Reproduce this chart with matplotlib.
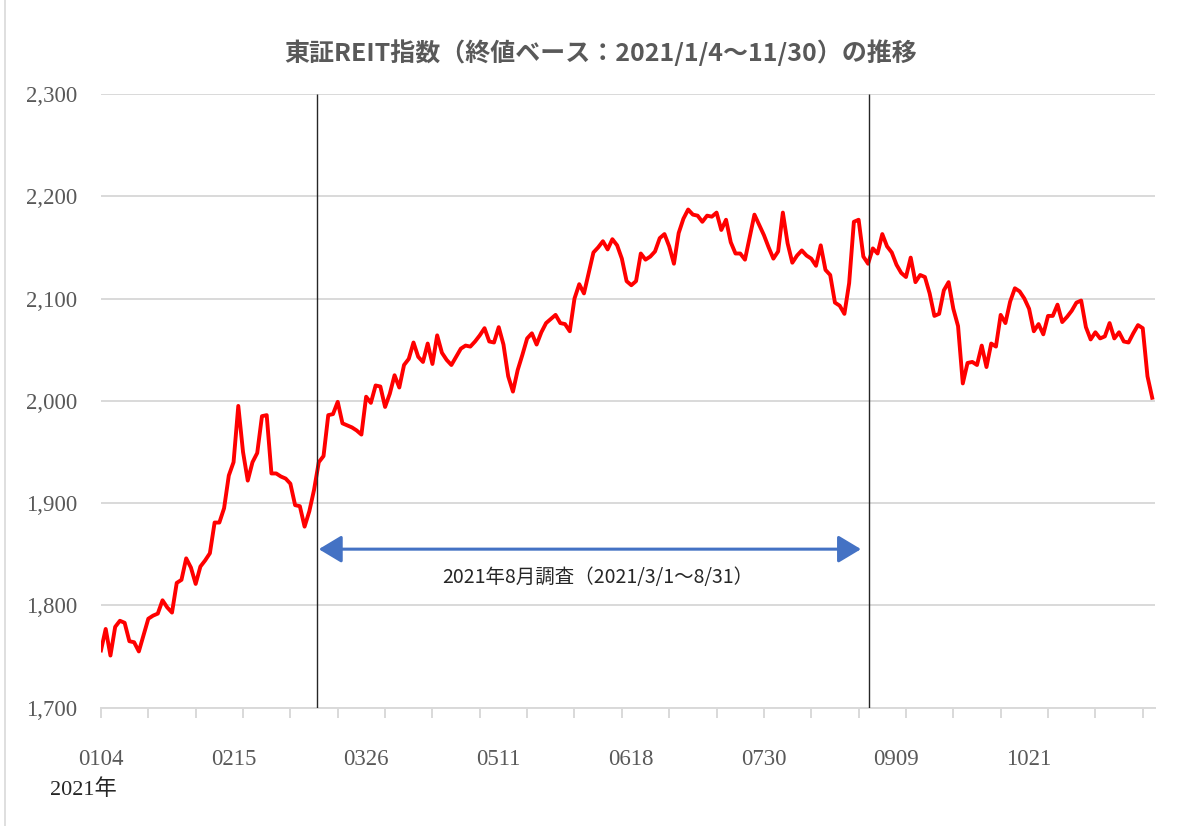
import numpy as np
import matplotlib
matplotlib.use('Agg')
import matplotlib.pyplot as plt
from matplotlib.lines import Line2D

# 東証REIT指数 終値（2021/1/4～11/30、営業日ごと）
reit_close = [
    1756, 1777, 1751, 1779, 1785, 1783, 1765, 1764, 1755, 1771,
    1787, 1790, 1792, 1805, 1798, 1793, 1822, 1825, 1846, 1837,
    1821, 1838, 1844, 1851, 1881, 1881, 1895, 1927, 1940, 1995,
    1950, 1922, 1940, 1949, 1985, 1986, 1929, 1929, 1926, 1924,
    1919, 1898, 1897, 1877, 1892, 1913, 1940, 1946, 1986, 1987,
    1999, 1978, 1976, 1974, 1971, 1967, 2004, 1998, 2015, 2014,
    1994, 2007, 2025, 2013, 2035, 2041, 2057, 2043, 2038, 2056,
    2036, 2064, 2047, 2040, 2035, 2043, 2051, 2054, 2053, 2058,
    2064, 2071, 2058, 2057, 2072, 2055, 2024, 2009, 2030, 2045,
    2061, 2066, 2055, 2067, 2076, 2080, 2084, 2076, 2075, 2068,
    2100, 2114, 2105, 2125, 2145, 2150, 2156, 2148, 2158, 2152,
    2139, 2117, 2113, 2117, 2144, 2138, 2141, 2146, 2159, 2163,
    2151, 2134, 2164, 2178, 2187, 2182, 2181, 2175, 2181, 2180,
    2184, 2167, 2177, 2155, 2144, 2144, 2138, 2160, 2182, 2172,
    2162, 2150, 2139, 2146, 2184, 2154, 2135, 2142, 2147, 2142,
    2139, 2132, 2152, 2128, 2123, 2096, 2093, 2085, 2115, 2175,
    2177, 2141, 2134, 2149, 2144, 2163, 2151, 2145, 2133, 2125,
    2121, 2140, 2116, 2123, 2121, 2105, 2083, 2085, 2108, 2116,
    2090, 2073, 2017, 2037, 2038, 2035, 2054, 2033, 2056, 2053,
    2084, 2076, 2097, 2110, 2107, 2100, 2090, 2068, 2075, 2065,
    2083, 2083, 2094, 2077, 2082, 2088, 2096, 2098, 2072, 2060,
    2067, 2061, 2063, 2076, 2061, 2067, 2058, 2057, 2066, 2074,
    2071, 2024, 2003,
]
tick_dates = ['0104', '0215', '0326', '0511', '0618', '0730', '0909', '1021']
tick_step = 28
y_ticks = [1700, 1800, 1900, 2000, 2100, 2200, 2300]

title_txt = '東証REIT指数（終値ベース：2021/1/4～11/30）の推移'
survey_txt = '2021年8月調査（2021/3/1～8/31）'
survey_lines = [45.7, 162.2]     # 縦線（営業日インデックス）
arrow_span = [46.0, 160.5]
arrow_level = 1855
survey_txt_pos = (104.9, 1827)

jp_font = ['Noto Sans CJK JP', 'DejaVu Sans']
num_font = ['Liberation Serif', 'Noto Sans CJK JP']
grid_c = '#D9D9D9'
label_c = '#595959'

fig = plt.figure(figsize=(11.92, 8.26), dpi=100)
ax = fig.add_axes([0.0847, 0.1432, 0.8843, 0.7431])

x = np.arange(len(reit_close))
ax.plot(x, reit_close, color='#FF0000', lw=2.8, solid_joinstyle='round', zorder=3)

ax.set_xlim(0, 222.6)
ax.set_ylim(y_ticks[0], y_ticks[-1])

## y軸
ax.set_yticks(y_ticks)
ax.set_yticklabels([f'{v:,}' for v in y_ticks], family=num_font, fontsize=16.5, color=label_c)
ax.tick_params(axis='y', length=0, pad=17)
ax.grid(axis='y', color=grid_c, lw=1.4, zorder=0)

for s in ['left', 'top', 'right']:
    ax.spines[s].set_visible(False)
ax.spines['bottom'].set_color(grid_c)
ax.spines['bottom'].set_linewidth(1.4)

## x軸: 目盛り線は10日ごと、ラベルは28営業日ごと
ax.xaxis.remove_overlapping_locs = False
ax.set_xticks(np.arange(0, 223, 10), minor=True)
ax.set_xticks(np.arange(len(tick_dates)) * tick_step)
ax.set_xticklabels(tick_dates, family=num_font, fontsize=16.5, color=label_c)
ax.tick_params(axis='x', which='major', length=0, pad=30)
ax.tick_params(axis='x', which='minor', length=7, width=1.4, color=grid_c, direction='out')

# 調査期間
ax.vlines(survey_lines, y_ticks[0], y_ticks[-1], color='#262626', lw=1.0, zorder=4)
ax.annotate('', xy=(arrow_span[0], arrow_level), xytext=(arrow_span[1], arrow_level),
            arrowprops=dict(arrowstyle='<|-|>,head_length=0.7,head_width=0.42',
                            color='#4472C4', lw=2.2, shrinkA=0, shrinkB=0,
                            mutation_scale=20), zorder=5)
ax.text(survey_txt_pos[0], survey_txt_pos[1], survey_txt, ha='center', va='center',
        fontsize=14, family=jp_font, color='#262626')

fig.text(601 / 1192, 1 - 53 / 826, title_txt, ha='center', va='center', fontsize=18,
         weight='bold', color=label_c, family=jp_font)
fig.text(50 / 1192, 1 - 790 / 826, '2021年', ha='left', va='center', fontsize=16,
         family=num_font, color='#262626')

fig.add_artist(Line2D([5 / 1192, 5 / 1192], [0, 1], color=grid_c, lw=1.2))

plt.savefig('out.png', dpi=100)
